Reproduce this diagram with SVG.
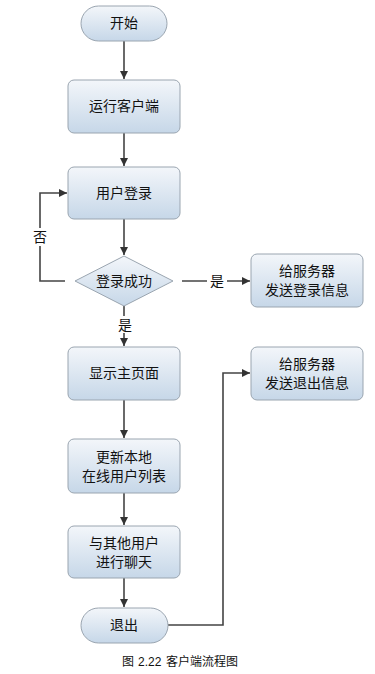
<svg xmlns="http://www.w3.org/2000/svg" width="375" height="674" viewBox="0 0 375 674">
<defs>
<linearGradient id="g" x1="0" y1="0" x2="0" y2="1">
<stop offset="0" stop-color="#f3f6fa"/>
<stop offset="1" stop-color="#c6d7e8"/>
</linearGradient>
<marker id="arr" viewBox="0 0 10 10" refX="10" refY="5" markerWidth="8" markerHeight="8" markerUnits="userSpaceOnUse" orient="auto">
<path d="M0,0 L10,5 L0,10 z" fill="#333"/>
</marker>
</defs>
<style>
.n{fill:url(#g);stroke:#9aa5b0;stroke-width:1}
.t{font-family:"Liberation Sans","Noto Sans CJK SC",sans-serif;font-size:14px;fill:#111;text-anchor:middle}
.l{font-family:"Liberation Sans","Noto Sans CJK SC",sans-serif;font-size:14px;fill:#111;text-anchor:middle}
.c{fill:none;stroke:#444;stroke-width:1.6;marker-end:url(#arr)}
.cap{font-family:"Liberation Sans","Noto Sans CJK SC",sans-serif;font-size:12px;fill:#111}
</style>
<rect width="375" height="674" fill="#fff"/>
<g id="connectors">
<path class="c" d="M124,41 V79"/>
<path class="c" d="M124,133 V166"/>
<path class="c" d="M124,219 V255"/>
<path class="c" d="M65,281 H40 V193 H67"/>
<path class="c" d="M182,281 H250"/>
<path class="c" d="M124,306 V346"/>
<path class="c" d="M124,400 V438"/>
<path class="c" d="M124,493 V525"/>
<path class="c" d="M124,578 V607"/>
<path class="c" d="M168,625 H223 V373 H250"/>
<rect x="31" y="228" width="18" height="18" fill="#fff"/>
<text class="l" x="40" y="242">否</text>
<rect x="207" y="273" width="20" height="17" fill="#fff"/>
<text class="l" x="217" y="286">是</text>
<rect x="116" y="316" width="18" height="17" fill="#fff"/>
<text class="l" x="125" y="330">是</text>
</g>
<g id="start"><rect class="n" x="81" y="6" width="86" height="35" rx="17.5"/><text class="t" x="124" y="28">开始</text></g>
<g id="run"><rect class="n" x="68" y="80" width="112" height="53" rx="6"/><text class="t" x="124" y="111">运行客户端</text></g>
<g id="login"><rect class="n" x="68" y="167" width="112" height="52" rx="6"/><text class="t" x="124" y="198">用户登录</text></g>
<g id="decision"><path class="n" d="M124,256 L173,281 L124,306 L75,281 z" stroke-linejoin="round"/><text class="t" x="124" y="286">登录成功</text></g>
<g id="sendlogin"><rect class="n" x="251" y="254" width="112" height="53" rx="6"/><text class="t" x="307" y="276">给服务器</text><text class="t" x="307" y="295">发送登录信息</text></g>
<g id="main"><rect class="n" x="68" y="347" width="112" height="53" rx="6"/><text class="t" x="124" y="378">显示主页面</text></g>
<g id="sendlogout"><rect class="n" x="251" y="347" width="112" height="53" rx="6"/><text class="t" x="307" y="369">给服务器</text><text class="t" x="307" y="388">发送退出信息</text></g>
<g id="update"><rect class="n" x="68" y="439" width="112" height="54" rx="6"/><text class="t" x="124" y="462">更新本地</text><text class="t" x="124" y="481">在线用户列表</text></g>
<g id="chat"><rect class="n" x="68" y="526" width="112" height="52" rx="6"/><text class="t" x="124" y="548">与其他用户</text><text class="t" x="124" y="567">进行聊天</text></g>
<g id="exit"><rect class="n" x="81" y="608" width="87" height="35" rx="17.5"/><text class="t" x="124" y="630">退出</text></g>
<text class="cap" y="666"><tspan x="122">图</tspan><tspan x="138">2.22</tspan><tspan x="166">客户端流程图</tspan></text>
</svg>
